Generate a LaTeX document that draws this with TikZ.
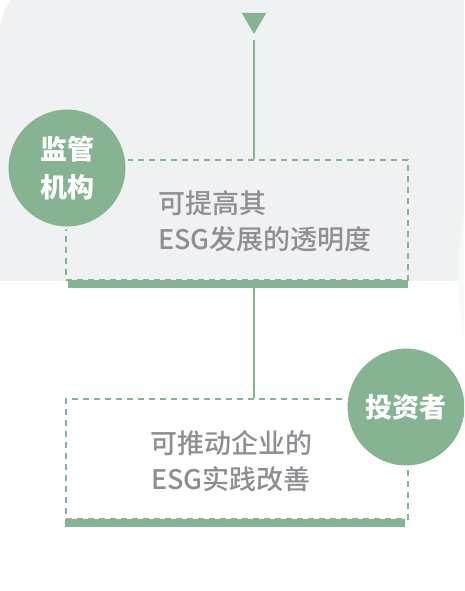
\documentclass[tikz,border=0pt]{standalone}
\usepackage{fontspec}
\newfontfamily\cjk{Noto Sans CJK SC}
\newfontfamily\cjkmid{Noto Sans CJK SC}[UprightFont={* Medium}]
\usetikzlibrary{shapes.geometric, positioning}
\definecolor{esggreen}{HTML}{86B392}
\definecolor{bggray}{HTML}{F0F1F3}
\definecolor{txtgray}{HTML}{8E8E93}
\definecolor{mintbg}{HTML}{F5FAF6}

\begin{document}
\begin{tikzpicture}[x=1pt, y=-1pt,
  role/.style={circle, fill=esggreen, draw=#1, line width=3pt, minimum size=120pt, inner sep=0pt,
    text=white, align=center, font=\cjk\bfseries\fontsize{27}{38}\selectfont},
  effect/.style={rectangle, draw=esggreen, dash pattern=on 6pt off 5pt, line width=2pt,
    minimum width=342pt, minimum height=120pt, inner sep=0pt},
  bar/.style={rectangle, fill=esggreen, minimum width=340pt, minimum height=8pt, inner sep=0pt},
  msg/.style={text=txtgray, inner sep=0pt, font=\cjkmid\fontsize{27}{36}\selectfont},
  link/.style={draw=esggreen, line width=2pt}]
\clip (0,0) rectangle (464,591);
% background
\fill[white] (0,0) rectangle (464,591);
\fill[bggray] (0,0) rectangle (464,281);
\fill[white] (0,0) -- (10,0) .. controls (4,10) .. (0,26) -- cycle;
\fill[mintbg] (763,276) circle (305);

% boxes and bars
\node[effect] (box1) at (237,220) {};
\node[bar, anchor=north] (bar1) at (238,280) {};
\node[effect] (box2) at (236.5,459) {};
\node[bar, anchor=north] (bar2) at (235,519) {};

% arrow head and links
\node[regular polygon, regular polygon sides=3, shape border rotate=180, fill=esggreen,
  minimum size=28pt, inner sep=0pt] (tri) at (254,20) {};
\draw[link] ([yshift=-6pt]tri.south) -- (tri.south |- box1.north);
\draw[link] (bar1.south -| tri.south) -- (box2.north -| tri.south);

% texts
\node[msg, anchor=west, align=left] (msg1) at (158,221) {可提高其\\ESG发展的透明度};
\node[msg, align=center] (msg2) at (231,461) {可推动企业的\\ESG实践改善};

% roles
\node[role=bggray] (regulator) at (67,168) {监管\\机构};
\node[role=white] (investor) at (406,407) {投资者};
\end{tikzpicture}
\end{document}
